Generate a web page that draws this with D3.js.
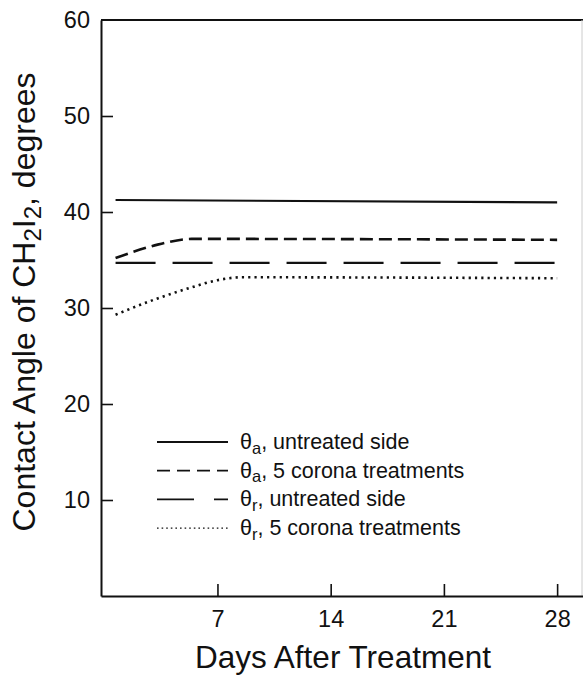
<!DOCTYPE html>
<html>
<head>
<meta charset="utf-8">
<script src="https://cdn.jsdelivr.net/npm/d3@7"></script>
<style>
  body { margin: 0; background: #fff; }
  svg { display: block; font-family: "Liberation Sans", Arial, sans-serif; }
</style>
</head>
<body>
<svg id="chart" width="583" height="675"></svg>
<script>
// days and contact angles
var aUntreatedDays = [0.7, 28];
var aUntreatedVals = [41.25, 41.0];
var aCoronaDays = [0.7, 3.3, 5.4, 28];
var aCoronaVals = [35.2, 36.6, 37.2, 37.1];
var rUntreatedDays = [0.7, 28];
var rUntreatedVals = [34.7, 34.7];
var rCoronaDays = [0.7, 3.3, 5.3, 7.0, 8.5, 28];
var rCoronaVals = [29.3, 31.0, 32.1, 32.9, 33.2, 33.1];

var xTicks = [7, 14, 21, 28];
var yTicks = [10, 20, 30, 40, 50, 60];

var legendSub = ["a", "a", "r", "r"];
var legendText = [", untreated side", ", 5 corona treatments", ", untreated side", ", 5 corona treatments"];

(function() {
    var svg = d3.select("#chart"),
        left = 101, right = 583, top = 20, bottom = 596;

    var x = d3.scaleLinear().domain([-0.2, 29.6]).range([left, right]);
    var y = d3.scaleLinear().domain([0, 60]).range([bottom, top]);

    // frame
    svg.append("line").attr("x1", left).attr("x2", right).attr("y1", top).attr("y2", top)
        .attr("stroke", "#111").attr("stroke-width", 2);
    svg.append("line").attr("x1", right - 1).attr("x2", right - 1).attr("y1", top).attr("y2", bottom)
        .attr("stroke", "#ccc").attr("stroke-width", 1);

    var yAxis = svg.append("g")
        .attr("transform", "translate(" + left + ",0)")
        .call(d3.axisLeft(y).tickValues(yTicks).tickSizeInner(-12).tickSizeOuter(0).tickPadding(11));
    var xAxis = svg.append("g")
        .attr("transform", "translate(0," + bottom + ")")
        .call(d3.axisBottom(x).tickValues(xTicks).tickSizeInner(-12).tickSizeOuter(0).tickPadding(14));

    [yAxis, xAxis].forEach(function(ax) {
        ax.select(".domain").attr("stroke", "#111").attr("stroke-width", 2);
        ax.selectAll(".tick line").attr("stroke", "#111").attr("stroke-width", 1.6);
        ax.selectAll(".tick text").attr("fill", "#111")
            .style("font-size", "23.5px").style("font-family", "'Liberation Sans', Arial, sans-serif");
    });
    yAxis.selectAll(".tick").filter(function(d) { return d === 60; }).select("line").remove();
    xAxis.selectAll(".tick text").attr("dy", "0.71em");

    var series = [
        { days: aUntreatedDays, vals: aUntreatedVals, dash: null, w: 2.2 },
        { days: aCoronaDays, vals: aCoronaVals, dash: "13,6", w: 2.6 },
        { days: rUntreatedDays, vals: rUntreatedVals, dash: "40,17", w: 2.4 },
        { days: rCoronaDays, vals: rCoronaVals, dash: "2.2,4.1", w: 2.6 }
    ];

    var line = d3.line()
        .x(function(d) { return x(d[0]); })
        .y(function(d) { return y(d[1]); })
        .curve(d3.curveMonotoneX);

    series.forEach(function(s) {
        svg.append("path")
            .attr("d", line(d3.zip(s.days, s.vals)))
            .attr("fill", "none")
            .attr("stroke", "#111")
            .attr("stroke-width", s.w)
            .attr("stroke-dasharray", s.dash);
    });

    // legend
    var legDash = [null, "13,7", "37,20", "1.6,3"];
    var legW = [1.8, 1.8, 1.8, 1.2];
    var legend = svg.append("g");
    legendText.forEach(function(t, i) {
        var ly = 442 + i * 28.7;
        legend.append("line")
            .attr("x1", 157).attr("x2", 228).attr("y1", ly).attr("y2", ly)
            .attr("stroke", "#111").attr("stroke-width", legW[i])
            .attr("stroke-dasharray", legDash[i]);
        var txt = legend.append("text")
            .attr("x", 240).attr("y", ly + 7)
            .attr("fill", "#111")
            .style("font-size", "21.5px");
        txt.append("tspan").text("\u03b8");
        txt.append("tspan").attr("dy", 4.5).style("font-size", "16.5px").text(legendSub[i]);
        txt.append("tspan").attr("dy", -4.5).text(t);
    });

    // axis titles
    svg.append("text")
        .attr("x", 343).attr("y", 668)
        .attr("text-anchor", "middle")
        .attr("fill", "#111")
        .style("font-size", "31.5px")
        .text("Days After Treatment");

    var yt = svg.append("text")
        .attr("transform", "translate(35,302) rotate(-90)")
        .attr("text-anchor", "middle")
        .attr("fill", "#111")
        .style("font-size", "32px");
    yt.append("tspan").text("Contact Angle of CH");
    yt.append("tspan").attr("dy", 6).style("font-size", "24px").text("2");
    yt.append("tspan").attr("dy", -6).text("I");
    yt.append("tspan").attr("dy", 6).style("font-size", "24px").text("2");
    yt.append("tspan").attr("dy", -6).text(", degrees");
})();
</script>
</body>
</html>
